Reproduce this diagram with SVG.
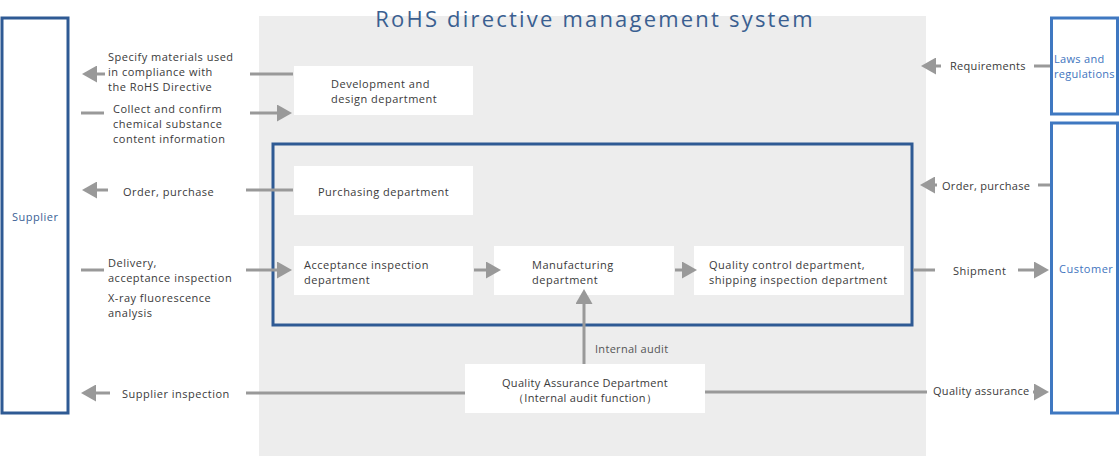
<svg xmlns="http://www.w3.org/2000/svg" width="1120" height="456" viewBox="0 0 1120 456">
<style>
.t{font-family:"Open Sans","Noto Sans","Liberation Sans",sans-serif;font-size:11px;fill:#3a3a3a;letter-spacing:0.5px}
.r{font-family:"Open Sans","Noto Sans","Liberation Sans",sans-serif;font-size:11px;fill:#3a3a3a;letter-spacing:0.3px}
.box{fill:#fff}
.c{stroke:#999;stroke-width:3;fill:none}
.a{marker-end:url(#ah)}
</style>
<defs>
<marker id="ah" markerUnits="userSpaceOnUse" markerWidth="16" markerHeight="17" refX="1" refY="8.5" orient="auto" viewBox="0 0 16 17">
<path d="M0,0 L15,8.5 L0,17 Z" fill="#999"/>
</marker>
</defs>
<rect x="259" y="16" width="667" height="440" fill="#ededed"/>
<text x="595" y="27" text-anchor="middle" font-family="'Open Sans','Noto Sans',sans-serif" font-size="22" letter-spacing="2.2" fill="#3a5f91">RoHS directive management system</text>

<g id="supplier">
<rect x="2" y="18" width="66" height="395" fill="#fff" stroke="#2e5a94" stroke-width="3"/>
<text class="t" x="12" y="221" style="fill:#3a5f95">Supplier</text>
</g>
<g id="laws">
<rect x="1051.5" y="18" width="66" height="96" fill="#fff" stroke="#3f78c1" stroke-width="3"/>
<text class="r" x="1054" y="63" style="fill:#4174be">Laws and</text>
<text class="r" x="1054" y="78" style="fill:#4174be">regulations</text>
</g>
<g id="customer">
<rect x="1051.5" y="123" width="66" height="290" fill="#fff" stroke="#3f78c1" stroke-width="3"/>
<text class="t" x="1059" y="273" style="fill:#4174be">Customer</text>
</g>
<g id="scope">
<rect x="273" y="144" width="639" height="181" fill="none" stroke="#2e5a94" stroke-width="3"/>
</g>
<g id="development">
<rect class="box" x="294" y="66" width="179" height="49"/>
<text class="t" x="331" y="88">Development and</text>
<text class="t" x="331" y="103">design department</text>
</g>
<g id="purchasing">
<rect class="box" x="294" y="166" width="179" height="49"/>
<text class="t" x="318" y="196">Purchasing department</text>
</g>
<g id="acceptance">
<rect class="box" x="294" y="246" width="179" height="49"/>
<text class="t" x="304" y="269">Acceptance inspection</text>
<text class="t" x="304" y="284">department</text>
</g>
<g id="manufacturing">
<rect class="box" x="494" y="246" width="180" height="49"/>
<text class="t" x="532" y="269">Manufacturing</text>
<text class="t" x="532" y="284">department</text>
</g>
<g id="qc">
<rect class="box" x="694" y="246" width="210" height="49"/>
<text class="t" x="709" y="269">Quality control department,</text>
<text class="t" x="709" y="284">shipping inspection department</text>
</g>
<g id="qa">
<rect class="box" x="465" y="364" width="240" height="49"/>
<text class="r" x="585" y="387" text-anchor="middle">Quality Assurance Department</text>
<text class="r" x="585" y="402" text-anchor="middle">（Internal audit function）</text>
</g>

<g id="connectors">
<line class="c a" x1="105" y1="74" x2="96" y2="74"/>
<line class="c" x1="250" y1="74" x2="293" y2="74"/>
<line class="c" x1="81" y1="113" x2="104" y2="113"/>
<line class="c a" x1="250" y1="113" x2="278" y2="113"/>
<line class="c a" x1="108" y1="190" x2="96" y2="190"/>
<line class="c" x1="246" y1="190" x2="293" y2="190"/>
<line class="c" x1="81" y1="270" x2="104" y2="270"/>
<line class="c a" x1="246" y1="270" x2="278" y2="270"/>
<line class="c a" x1="474" y1="270" x2="487" y2="270"/>
<line class="c a" x1="675" y1="270" x2="683" y2="270"/>
<line class="c" x1="913" y1="270" x2="935" y2="270"/>
<line class="c a" x1="1018" y1="270" x2="1035" y2="270"/>
<line class="c" x1="1038" y1="185" x2="1050" y2="185"/>
<line class="c a" x1="937" y1="185" x2="934" y2="185"/>
<line class="c" x1="1034" y1="66" x2="1050" y2="66"/>
<line class="c a" x1="941" y1="66" x2="935" y2="66"/>
<line class="c a" x1="584" y1="364" x2="584" y2="303"/>
<line class="c a" x1="110" y1="393" x2="95" y2="393"/>
<line class="c" x1="246" y1="393" x2="465" y2="393"/>
<line class="c" x1="705" y1="392" x2="927" y2="392"/>
<line class="c a" x1="1033" y1="392" x2="1035" y2="392"/>
</g>

<g id="labels">
<text class="t" x="108" y="61">Specify materials used</text>
<text class="t" x="108" y="76">in compliance with</text>
<text class="t" x="108" y="91">the RoHS Directive</text>
<text class="t" x="113" y="113">Collect and confirm</text>
<text class="t" x="113" y="128">chemical substance</text>
<text class="t" x="113" y="143">content information</text>
<text class="t" x="123" y="196">Order, purchase</text>
<text class="t" x="108" y="267">Delivery,</text>
<text class="t" x="108" y="282">acceptance inspection</text>
<text class="t" x="108" y="302">X-ray fluorescence</text>
<text class="t" x="108" y="317">analysis</text>
<text class="t" x="122" y="398">Supplier inspection</text>
<text class="r" x="595" y="353" style="fill:#555">Internal audit</text>
<text class="r" x="950" y="70">Requirements</text>
<text class="r" x="942" y="190">Order, purchase</text>
<text class="t" x="953" y="275">Shipment</text>
<text class="r" x="933" y="395">Quality assurance</text>
</g>
</svg>
